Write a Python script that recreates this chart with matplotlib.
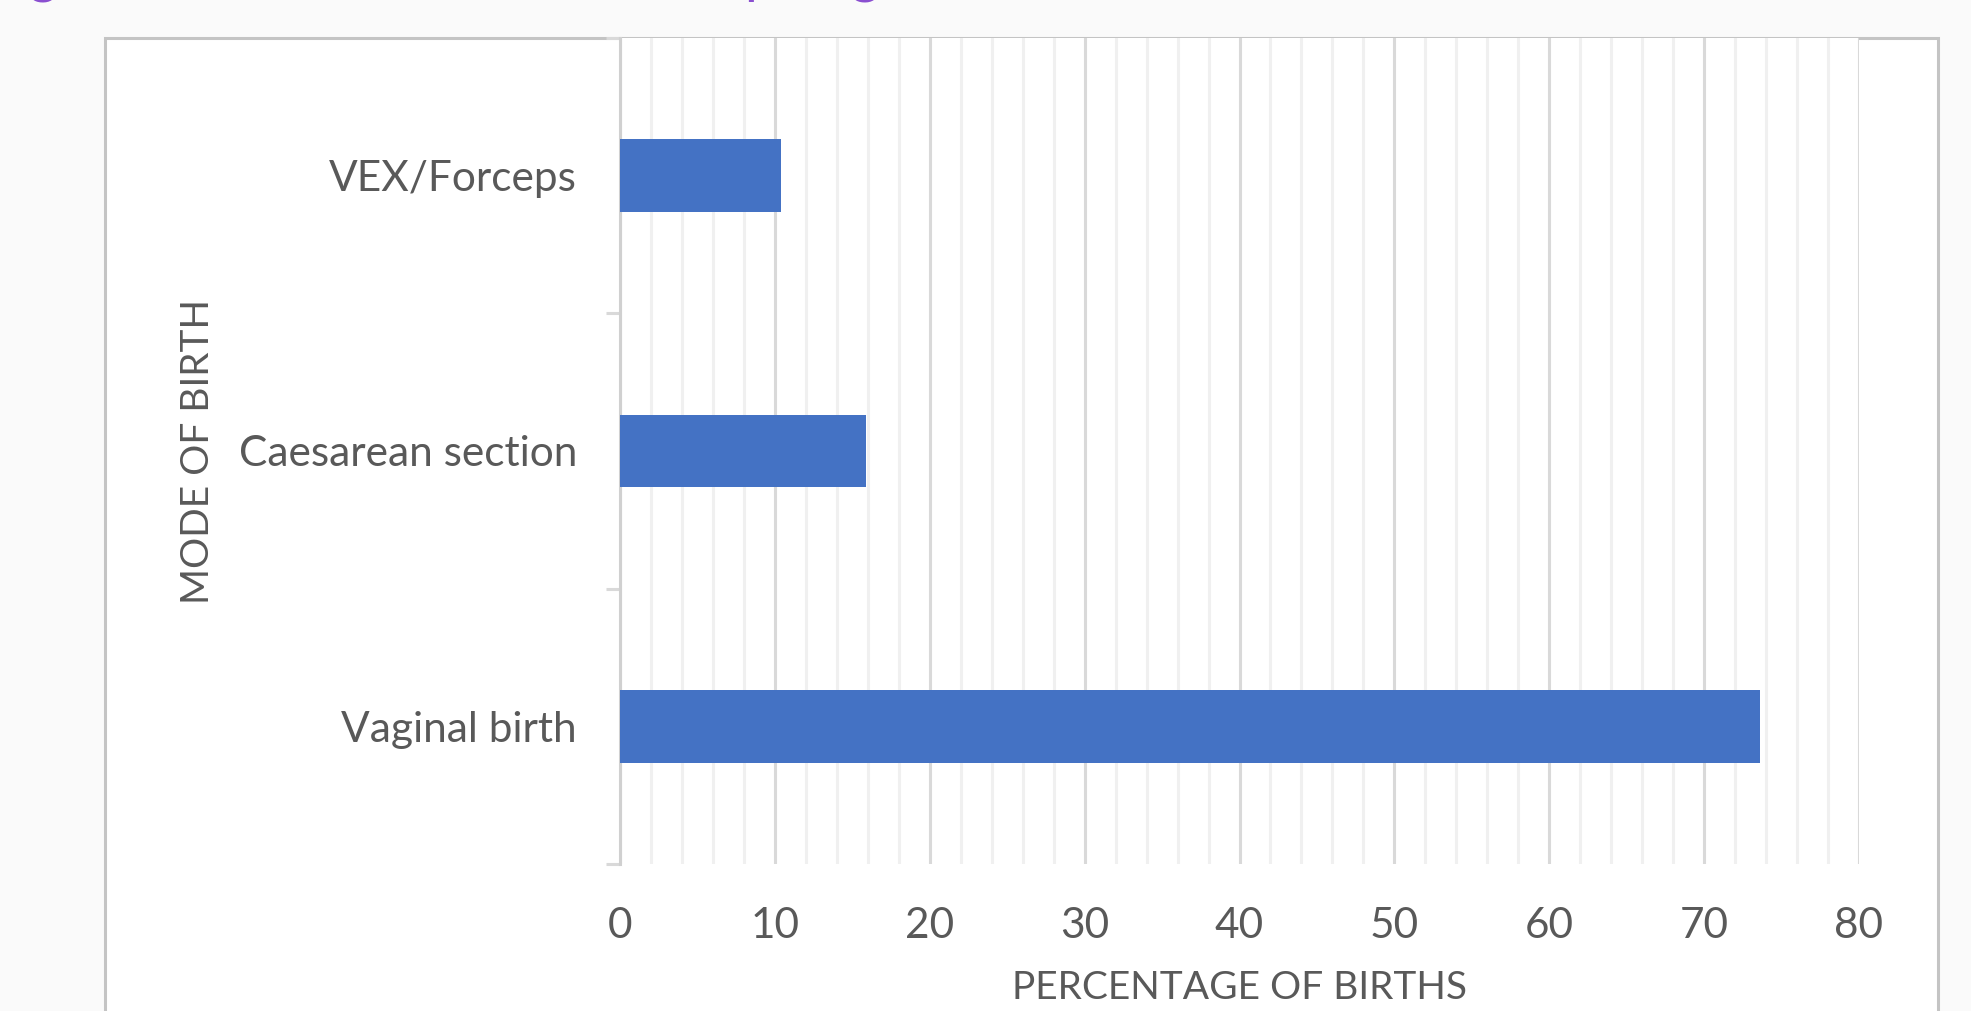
import numpy as np
import matplotlib
matplotlib.use("Agg")
import matplotlib.pyplot as plt
from matplotlib.patches import Rectangle
from matplotlib.ticker import MultipleLocator

# data
modes = ["Vaginal birth", "Caesarean section", "VEX/Forceps"]
percent = [73.6, 15.9, 10.4]
xticks = [0, 10, 20, 30, 40, 50, 60, 70, 80]

txt = "#595959"
fs = 30.5
plt.rcParams["font.family"] = ["Lato", "DejaVu Sans"]

W, H = 1971, 1011
fig = plt.figure(figsize=(W / 100, H / 100), dpi=100)
fig.patch.set_facecolor("#fafafa")

# white chart box, runs off the bottom of the picture
fig.patches.append(Rectangle((105 / W, -0.05), (1938 - 105) / W, 1 - 37.5 / H + 0.05,
                             transform=fig.transFigure, facecolor="white",
                             edgecolor="#c4c4c4", lw=2.2, zorder=-5))

# bits of the purple title cut off at the top
for xp, ch in [(43, "g"), (760, "p"), (865, "g")]:
    fig.text(xp / W, 1 - 2.5 / H, ch, color="#8a4fd0", fontsize=40,
             ha="center", va="bottom")

ax = fig.add_axes([620 / W, 1 - 864 / H, (1859 - 620) / W, (864 - 38) / H])
ax.set_facecolor("white")

y = np.arange(len(modes))
ax.barh(y, percent, height=0.265, color="#4472C4", zorder=3)

ax.set_xlim(0, 80)
ax.set_ylim(-0.5, 2.5)

ax.set_xticks(xticks)
ax.set_xticklabels([str(v) for v in xticks])
ax.xaxis.set_minor_locator(MultipleLocator(2))
ax.grid(axis="x", which="major", color="#d9d9d9", lw=2.2, zorder=0)
ax.grid(axis="x", which="minor", color="#f0f0f0", lw=2.2, zorder=0)
ax.tick_params(axis="x", which="both", length=0, pad=31, labelsize=fs, labelcolor=txt)

# category boundaries carry the tick marks, category centres carry labels
ax.set_yticks([-0.5, 0.5, 1.5, 2.5])
ax.set_yticklabels([])
ax.set_yticks(y, minor=True)
ax.set_yticklabels(modes, minor=True)
ax.tick_params(axis="y", which="major", length=10, width=2.2, color="#d9d9d9")
ax.tick_params(axis="y", which="minor", length=0, pad=31, labelsize=fs, labelcolor=txt)

for s in ["top", "right", "bottom"]:
    ax.spines[s].set_visible(False)
ax.spines["left"].set_color("#d0d0d0")
ax.spines["left"].set_linewidth(2.2)

ax.set_xlabel("PERCENTAGE OF BIRTHS", fontsize=28, color=txt, labelpad=18)
ax.set_ylabel("MODE OF BIRTH", fontsize=28, color=txt, labelpad=16)

fig.savefig("out.png", dpi=100, facecolor=fig.get_facecolor())
